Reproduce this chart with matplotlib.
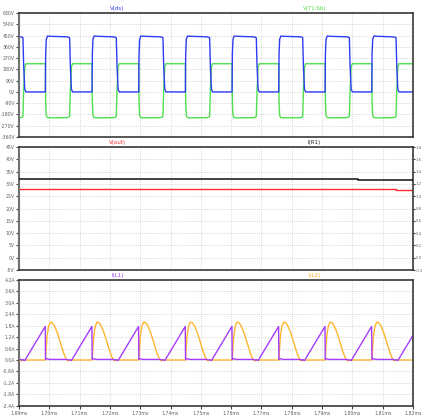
import numpy as np
import matplotlib
matplotlib.use("Agg")
import matplotlib.pyplot as plt

# switch turn-on instants (Vds falling edges), ms
CYCLE_STARTS = [1.6760, 1.6913, 1.7067, 1.7221, 1.7375, 1.7529, 1.7683, 1.7836, 1.7990, 1.8144]

# one switching period, offsets in microseconds from turn-on
T_VDS = [0.00, 0.25, 0.60, 1.00, 7.40, 7.50, 7.70, 8.10, 9.00, 12.00, 14.30, 14.90, 15.20]
VDS = [432, 200, 20, 0, 0, 300, 420, 446, 444, 442, 440, 437, 436]

T_VSEC = [0.00, 0.25, 0.60, 1.00, 7.40, 7.50, 7.70, 8.10, 9.00, 14.30, 14.90, 15.20]
VSEC = [-195, 20, 200, 225, 225, -80, -190, -205, -207, -206, -203, -200]

T_IL1 = [0.00, 0.60, 7.35, 7.45, 7.95, 8.70, 14.40, 15.00, 15.30]
IL1 = [0.02, -0.03, 1.76, 0.03, 0.07, 0.03, 0.03, 0.00, 0.01]

T_IL2 = [0.00, 7.45, 7.65, 7.95, 8.45, 9.05, 9.60, 10.40, 11.30, 12.20, 13.10, 13.90, 14.50, 14.90, 15.30]
IL2 = [0.00, 0.00, 0.55, 1.25, 1.78, 1.99, 1.97, 1.80, 1.45, 1.00, 0.52, 0.17, 0.00, -0.05, 0.00]

# middle pane (steps)
VOUT_T = [1.69, 1.7091, 1.8144, 1.82]
VOUT = [28.0, 27.8, 27.6, 27.6]
IR_T = [1.69, 1.7101, 1.8019, 1.82]
IR = [1.280, 1.272, 1.266, 1.266]

# ticks
X_TICKS = [1.69, 1.70, 1.71, 1.72, 1.73, 1.74, 1.75, 1.76, 1.77, 1.78, 1.79, 1.80, 1.81, 1.82]
V1_TICKS = [-360, -270, -180, -90, 0, 90, 180, 270, 360, 450, 540, 630]
V2_TICKS = [-5, 0, 5, 10, 15, 20, 25, 30, 35, 40, 45]
A2_TICKS = [-0.2, 0.0, 0.2, 0.4, 0.6, 0.8, 1.0, 1.2, 1.4, 1.6, 1.8]
A3_TICKS = [-2.4, -1.8, -1.2, -0.6, 0.0, 0.6, 1.2, 1.8, 2.4, 3.0, 3.6, 4.2]

BLUE = "#2f3cf5"
GREEN = "#4fe04f"
RED = "#ff2a2a"
PURPLE = "#a53cff"
YELLOW = "#ffb62e"
TICK_COL = "#606060"
FS = 3.3


def tile(offsets, values):
    t, v = [], []
    for s in CYCLE_STARTS:
        t.extend(s + np.array(offsets) / 1000.0)
        v.extend(values)
    return np.array(t), np.array(v)


def style(ax, yticks, ylabels, show_x=False):
    ax.set_xlim(X_TICKS[0], X_TICKS[-1])
    ax.set_ylim(yticks[0], yticks[-1])
    ax.set_xticks(X_TICKS)
    ax.set_yticks(yticks)
    ax.set_yticklabels(ylabels)
    if show_x:
        ax.set_xticklabels([f"{x:.2f}ms" for x in X_TICKS])
        ax.tick_params(axis="x", length=2, width=0.8, pad=1.5, labelsize=FS,
                       labelcolor=TICK_COL, color="#404040")
    else:
        ax.tick_params(axis="x", length=0, labelbottom=False)
    ax.tick_params(axis="y", length=2, width=0.8, pad=1, labelsize=FS,
                   labelcolor=TICK_COL, color="#404040")
    ax.grid(True, color="#b5b5b5", linestyle=(0, (1, 2)), linewidth=0.5)
    for sp in ax.spines.values():
        sp.set_color("#383838")
        sp.set_linewidth(1.2)
    ax.spines["left"].set_color("#707070")
    ax.spines["left"].set_linewidth(1.5)


def titles(ax, left, lcol, right, rcol):
    ax.text(0.25, 1.015, left, color=lcol, fontsize=4, ha="center", va="bottom",
            transform=ax.transAxes)
    ax.text(0.75, 1.015, right, color=rcol, fontsize=4, ha="center", va="bottom",
            transform=ax.transAxes)


fig = plt.figure(figsize=(4.22, 4.15), dpi=100)
W = 394 / 422
L = 19 / 422
ax1 = fig.add_axes([L, 1 - 137 / 415, W, 124 / 415])
ax2 = fig.add_axes([L, 1 - 270 / 415, W, 123 / 415])
ax3 = fig.add_axes([L, 1 - 405.7 / 415, W, 125.7 / 415])

# pane 1
t, v = tile(T_VSEC, VSEC)
ax1.plot(t, v, color=GREEN, lw=1.0)
t, v = tile(T_VDS, VDS)
ax1.plot(t, v, color=BLUE, lw=1.0)
style(ax1, V1_TICKS, [f"{v}V" for v in V1_TICKS])
titles(ax1, "V(ds)", BLUE, "V(T1:6b)", GREEN)

# pane 2
ax2.plot(VOUT_T, VOUT, color=RED, lw=1.0, drawstyle="steps-post")
style(ax2, V2_TICKS, [f"{v}V" for v in V2_TICKS])
ax2r = ax2.twinx()
ax2r.plot(IR_T, IR, color="#111111", lw=1.1, drawstyle="steps-post")
ax2r.set_ylim(A2_TICKS[0], A2_TICKS[-1])
ax2r.set_yticks(A2_TICKS)
ax2r.set_yticklabels([f"{a:.1f}" for a in A2_TICKS])
ax2r.tick_params(axis="y", length=1.5, width=0.8, pad=0.4, labelsize=2.7,
                 labelcolor=TICK_COL, color="#404040")
for sp in ax2r.spines.values():
    sp.set_visible(False)
titles(ax2, "V(out)", RED, "I(R1)", "#222222")

# pane 3
t, v = tile(T_IL2, IL2)
ax3.plot(t, v, color=YELLOW, lw=1.0)
t, v = tile(T_IL1, IL1)
ax3.plot(t, v, color=PURPLE, lw=1.0)
style(ax3, A3_TICKS, [f"{a:.1f}A" for a in A3_TICKS], show_x=True)
titles(ax3, "I(L1)", PURPLE, "I(L2)", YELLOW)

fig.savefig("out.png", dpi=100)
